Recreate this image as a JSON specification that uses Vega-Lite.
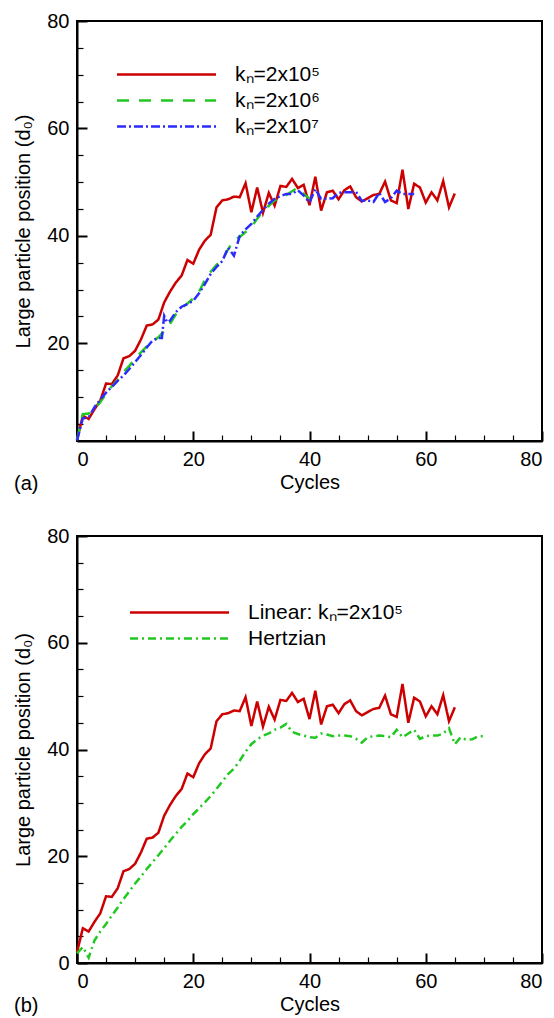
{
  "$schema": "https://vega.github.io/schema/vega-lite/v6.json",
  "background": "white",
  "padding": {"left": 12, "top": 10, "right": 4, "bottom": 2},
  "bounds": "flush",
  "spacing": 95,
  "config": {
    "font": "Liberation Sans",
    "view": {"stroke": "black", "strokeWidth": 2},
    "axis": {
      "grid": false,
      "domainColor": "black",
      "domainWidth": 2,
      "tickColor": "black",
      "tickWidth": {"condition": {"test": "datum.value % 20 === 0", "value": 2}, "value": 1.2},
      "tickSize": {"condition": {"test": "datum.value % 20 === 0", "value": -10}, "value": -6},
      "labelFont": "Liberation Sans",
      "labelFontSize": 20,
      "labelColor": "black",
      "labelPadding": 18,
      "labelExpr": "datum.value % 20 === 0 ? datum.label : ''",
      "titleFont": "Liberation Sans",
      "titleFontSize": 20,
      "titleFontWeight": "normal",
      "titleColor": "black"
    },
    "axisX": {"titlePadding": 3},
    "axisY": {"titlePadding": 13},
    "legend": {
      "labelFont": "Liberation Sans",
      "labelFontSize": 21,
      "labelColor": "black",
      "symbolType": "M-4.95,0H4.95",
      "symbolSize": 400,
      "symbolStrokeWidth": 2.5,
      "labelOffset": 57,
      "rowPadding": 4
    },
    "title": {"font": "Liberation Sans", "fontSize": 20, "fontWeight": "normal", "color": "black"}
  },
  "datasets": {
    "top": [
      {"cycle": 0, "pos": 2.0, "series": "kₙ=2x10⁵"},
      {"cycle": 1, "pos": 6.5, "series": "kₙ=2x10⁵"},
      {"cycle": 2, "pos": 5.9, "series": "kₙ=2x10⁵"},
      {"cycle": 3, "pos": 7.7, "series": "kₙ=2x10⁵"},
      {"cycle": 4, "pos": 9.3, "series": "kₙ=2x10⁵"},
      {"cycle": 5, "pos": 12.5, "series": "kₙ=2x10⁵"},
      {"cycle": 6, "pos": 12.4, "series": "kₙ=2x10⁵"},
      {"cycle": 7, "pos": 14.0, "series": "kₙ=2x10⁵"},
      {"cycle": 8, "pos": 17.2, "series": "kₙ=2x10⁵"},
      {"cycle": 9, "pos": 17.6, "series": "kₙ=2x10⁵"},
      {"cycle": 10, "pos": 18.6, "series": "kₙ=2x10⁵"},
      {"cycle": 11, "pos": 20.7, "series": "kₙ=2x10⁵"},
      {"cycle": 12, "pos": 23.3, "series": "kₙ=2x10⁵"},
      {"cycle": 13, "pos": 23.5, "series": "kₙ=2x10⁵"},
      {"cycle": 14, "pos": 24.4, "series": "kₙ=2x10⁵"},
      {"cycle": 15, "pos": 27.6, "series": "kₙ=2x10⁵"},
      {"cycle": 16, "pos": 29.6, "series": "kₙ=2x10⁵"},
      {"cycle": 17, "pos": 31.3, "series": "kₙ=2x10⁵"},
      {"cycle": 18, "pos": 32.6, "series": "kₙ=2x10⁵"},
      {"cycle": 19, "pos": 35.5, "series": "kₙ=2x10⁵"},
      {"cycle": 20, "pos": 34.8, "series": "kₙ=2x10⁵"},
      {"cycle": 21, "pos": 37.4, "series": "kₙ=2x10⁵"},
      {"cycle": 22, "pos": 39.1, "series": "kₙ=2x10⁵"},
      {"cycle": 23, "pos": 40.2, "series": "kₙ=2x10⁵"},
      {"cycle": 24, "pos": 45.3, "series": "kₙ=2x10⁵"},
      {"cycle": 25, "pos": 46.6, "series": "kₙ=2x10⁵"},
      {"cycle": 26, "pos": 46.8, "series": "kₙ=2x10⁵"},
      {"cycle": 27, "pos": 47.3, "series": "kₙ=2x10⁵"},
      {"cycle": 28, "pos": 47.2, "series": "kₙ=2x10⁵"},
      {"cycle": 29, "pos": 49.8, "series": "kₙ=2x10⁵"},
      {"cycle": 30, "pos": 44.4, "series": "kₙ=2x10⁵"},
      {"cycle": 31, "pos": 49.0, "series": "kₙ=2x10⁵"},
      {"cycle": 32, "pos": 44.3, "series": "kₙ=2x10⁵"},
      {"cycle": 33, "pos": 48.0, "series": "kₙ=2x10⁵"},
      {"cycle": 34, "pos": 45.6, "series": "kₙ=2x10⁵"},
      {"cycle": 35, "pos": 49.3, "series": "kₙ=2x10⁵"},
      {"cycle": 36, "pos": 49.1, "series": "kₙ=2x10⁵"},
      {"cycle": 37, "pos": 50.6, "series": "kₙ=2x10⁵"},
      {"cycle": 38, "pos": 48.9, "series": "kₙ=2x10⁵"},
      {"cycle": 39, "pos": 49.5, "series": "kₙ=2x10⁵"},
      {"cycle": 40, "pos": 45.7, "series": "kₙ=2x10⁵"},
      {"cycle": 41, "pos": 51.0, "series": "kₙ=2x10⁵"},
      {"cycle": 42, "pos": 44.7, "series": "kₙ=2x10⁵"},
      {"cycle": 43, "pos": 48.1, "series": "kₙ=2x10⁵"},
      {"cycle": 44, "pos": 48.4, "series": "kₙ=2x10⁵"},
      {"cycle": 45, "pos": 46.8, "series": "kₙ=2x10⁵"},
      {"cycle": 46, "pos": 48.5, "series": "kₙ=2x10⁵"},
      {"cycle": 47, "pos": 49.2, "series": "kₙ=2x10⁵"},
      {"cycle": 48, "pos": 47.2, "series": "kₙ=2x10⁵"},
      {"cycle": 49, "pos": 46.4, "series": "kₙ=2x10⁵"},
      {"cycle": 50, "pos": 47.0, "series": "kₙ=2x10⁵"},
      {"cycle": 51, "pos": 47.6, "series": "kₙ=2x10⁵"},
      {"cycle": 52, "pos": 47.8, "series": "kₙ=2x10⁵"},
      {"cycle": 53, "pos": 50.1, "series": "kₙ=2x10⁵"},
      {"cycle": 54, "pos": 46.6, "series": "kₙ=2x10⁵"},
      {"cycle": 55, "pos": 46.1, "series": "kₙ=2x10⁵"},
      {"cycle": 56, "pos": 52.3, "series": "kₙ=2x10⁵"},
      {"cycle": 57, "pos": 45.0, "series": "kₙ=2x10⁵"},
      {"cycle": 58, "pos": 49.7, "series": "kₙ=2x10⁵"},
      {"cycle": 59, "pos": 49.0, "series": "kₙ=2x10⁵"},
      {"cycle": 60, "pos": 46.2, "series": "kₙ=2x10⁵"},
      {"cycle": 61, "pos": 48.1, "series": "kₙ=2x10⁵"},
      {"cycle": 62, "pos": 46.6, "series": "kₙ=2x10⁵"},
      {"cycle": 63, "pos": 50.2, "series": "kₙ=2x10⁵"},
      {"cycle": 64, "pos": 45.3, "series": "kₙ=2x10⁵"},
      {"cycle": 65, "pos": 47.9, "series": "kₙ=2x10⁵"},

      {"cycle": 0, "pos": 2.0, "series": "kₙ=2x10⁶"},
      {"cycle": 1, "pos": 6.8, "series": "kₙ=2x10⁶"},
      {"cycle": 2, "pos": 6.9, "series": "kₙ=2x10⁶"},
      {"cycle": 3, "pos": 7.8, "series": "kₙ=2x10⁶"},
      {"cycle": 4, "pos": 9.0, "series": "kₙ=2x10⁶"},
      {"cycle": 5, "pos": 10.6, "series": "kₙ=2x10⁶"},
      {"cycle": 6, "pos": 12.0, "series": "kₙ=2x10⁶"},
      {"cycle": 7, "pos": 13.2, "series": "kₙ=2x10⁶"},
      {"cycle": 8, "pos": 14.6, "series": "kₙ=2x10⁶"},
      {"cycle": 9, "pos": 15.8, "series": "kₙ=2x10⁶"},
      {"cycle": 10, "pos": 17.1, "series": "kₙ=2x10⁶"},
      {"cycle": 11, "pos": 18.3, "series": "kₙ=2x10⁶"},
      {"cycle": 12, "pos": 19.4, "series": "kₙ=2x10⁶"},
      {"cycle": 13, "pos": 20.4, "series": "kₙ=2x10⁶"},
      {"cycle": 14, "pos": 21.1, "series": "kₙ=2x10⁶"},
      {"cycle": 15, "pos": 22.3, "series": "kₙ=2x10⁶"},
      {"cycle": 16, "pos": 23.6, "series": "kₙ=2x10⁶"},
      {"cycle": 17, "pos": 25.4, "series": "kₙ=2x10⁶"},
      {"cycle": 18, "pos": 26.6, "series": "kₙ=2x10⁶"},
      {"cycle": 19, "pos": 27.4, "series": "kₙ=2x10⁶"},
      {"cycle": 20, "pos": 28.3, "series": "kₙ=2x10⁶"},
      {"cycle": 21, "pos": 29.6, "series": "kₙ=2x10⁶"},
      {"cycle": 22, "pos": 31.8, "series": "kₙ=2x10⁶"},
      {"cycle": 23, "pos": 33.3, "series": "kₙ=2x10⁶"},
      {"cycle": 24, "pos": 34.6, "series": "kₙ=2x10⁶"},
      {"cycle": 25, "pos": 35.5, "series": "kₙ=2x10⁶"},
      {"cycle": 26, "pos": 37.5, "series": "kₙ=2x10⁶"},
      {"cycle": 27, "pos": 39.2, "series": "kₙ=2x10⁶"},
      {"cycle": 28, "pos": 39.8, "series": "kₙ=2x10⁶"},
      {"cycle": 29, "pos": 40.7, "series": "kₙ=2x10⁶"},
      {"cycle": 30, "pos": 41.6, "series": "kₙ=2x10⁶"},
      {"cycle": 31, "pos": 43.2, "series": "kₙ=2x10⁶"},
      {"cycle": 32, "pos": 44.6, "series": "kₙ=2x10⁶"},
      {"cycle": 33, "pos": 45.6, "series": "kₙ=2x10⁶"},
      {"cycle": 34, "pos": 46.6, "series": "kₙ=2x10⁶"},
      {"cycle": 35, "pos": 47.0, "series": "kₙ=2x10⁶"},
      {"cycle": 36, "pos": 47.6, "series": "kₙ=2x10⁶"},
      {"cycle": 37, "pos": 48.3, "series": "kₙ=2x10⁶"},
      {"cycle": 38, "pos": 49.0, "series": "kₙ=2x10⁶"},
      {"cycle": 39, "pos": 47.8, "series": "kₙ=2x10⁶"},
      {"cycle": 40, "pos": 46.9, "series": "kₙ=2x10⁶"},

      {"cycle": 0, "pos": 1.9, "series": "kₙ=2x10⁷"},
      {"cycle": 1, "pos": 6.0, "series": "kₙ=2x10⁷"},
      {"cycle": 2, "pos": 6.2, "series": "kₙ=2x10⁷"},
      {"cycle": 3, "pos": 8.1, "series": "kₙ=2x10⁷"},
      {"cycle": 4, "pos": 9.5, "series": "kₙ=2x10⁷"},
      {"cycle": 5, "pos": 10.8, "series": "kₙ=2x10⁷"},
      {"cycle": 6, "pos": 11.9, "series": "kₙ=2x10⁷"},
      {"cycle": 7, "pos": 13.0, "series": "kₙ=2x10⁷"},
      {"cycle": 8, "pos": 14.0, "series": "kₙ=2x10⁷"},
      {"cycle": 9, "pos": 15.2, "series": "kₙ=2x10⁷"},
      {"cycle": 10, "pos": 16.5, "series": "kₙ=2x10⁷"},
      {"cycle": 11, "pos": 17.8, "series": "kₙ=2x10⁷"},
      {"cycle": 12, "pos": 19.2, "series": "kₙ=2x10⁷"},
      {"cycle": 13, "pos": 20.5, "series": "kₙ=2x10⁷"},
      {"cycle": 14, "pos": 21.0, "series": "kₙ=2x10⁷"},
      {"cycle": 14.6, "pos": 21.0, "series": "kₙ=2x10⁷"},
      {"cycle": 15, "pos": 25.1, "series": "kₙ=2x10⁷"},
      {"cycle": 15.5, "pos": 23.9, "series": "kₙ=2x10⁷"},
      {"cycle": 16, "pos": 24.2, "series": "kₙ=2x10⁷"},
      {"cycle": 17, "pos": 25.8, "series": "kₙ=2x10⁷"},
      {"cycle": 18, "pos": 26.8, "series": "kₙ=2x10⁷"},
      {"cycle": 19, "pos": 27.3, "series": "kₙ=2x10⁷"},
      {"cycle": 20, "pos": 27.9, "series": "kₙ=2x10⁷"},
      {"cycle": 21, "pos": 29.3, "series": "kₙ=2x10⁷"},
      {"cycle": 22, "pos": 31.0, "series": "kₙ=2x10⁷"},
      {"cycle": 23, "pos": 32.9, "series": "kₙ=2x10⁷"},
      {"cycle": 24, "pos": 34.2, "series": "kₙ=2x10⁷"},
      {"cycle": 25, "pos": 35.3, "series": "kₙ=2x10⁷"},
      {"cycle": 26, "pos": 37.8, "series": "kₙ=2x10⁷"},
      {"cycle": 27, "pos": 36.3, "series": "kₙ=2x10⁷"},
      {"cycle": 28, "pos": 40.0, "series": "kₙ=2x10⁷"},
      {"cycle": 29, "pos": 41.2, "series": "kₙ=2x10⁷"},
      {"cycle": 30, "pos": 42.2, "series": "kₙ=2x10⁷"},
      {"cycle": 31, "pos": 43.6, "series": "kₙ=2x10⁷"},
      {"cycle": 32, "pos": 44.8, "series": "kₙ=2x10⁷"},
      {"cycle": 33, "pos": 46.0, "series": "kₙ=2x10⁷"},
      {"cycle": 34, "pos": 46.9, "series": "kₙ=2x10⁷"},
      {"cycle": 35, "pos": 47.4, "series": "kₙ=2x10⁷"},
      {"cycle": 36, "pos": 47.8, "series": "kₙ=2x10⁷"},
      {"cycle": 37, "pos": 47.8, "series": "kₙ=2x10⁷"},
      {"cycle": 38, "pos": 48.5, "series": "kₙ=2x10⁷"},
      {"cycle": 39, "pos": 47.5, "series": "kₙ=2x10⁷"},
      {"cycle": 40, "pos": 46.2, "series": "kₙ=2x10⁷"},
      {"cycle": 41, "pos": 48.7, "series": "kₙ=2x10⁷"},
      {"cycle": 42, "pos": 46.9, "series": "kₙ=2x10⁷"},
      {"cycle": 43, "pos": 46.9, "series": "kₙ=2x10⁷"},
      {"cycle": 44, "pos": 47.0, "series": "kₙ=2x10⁷"},
      {"cycle": 45, "pos": 48.0, "series": "kₙ=2x10⁷"},
      {"cycle": 46, "pos": 48.1, "series": "kₙ=2x10⁷"},
      {"cycle": 47, "pos": 48.1, "series": "kₙ=2x10⁷"},
      {"cycle": 48, "pos": 48.2, "series": "kₙ=2x10⁷"},
      {"cycle": 49, "pos": 46.5, "series": "kₙ=2x10⁷"},
      {"cycle": 50, "pos": 46.6, "series": "kₙ=2x10⁷"},
      {"cycle": 51, "pos": 46.3, "series": "kₙ=2x10⁷"},
      {"cycle": 52, "pos": 48.0, "series": "kₙ=2x10⁷"},
      {"cycle": 53, "pos": 46.3, "series": "kₙ=2x10⁷"},
      {"cycle": 54, "pos": 47.0, "series": "kₙ=2x10⁷"},
      {"cycle": 55, "pos": 48.4, "series": "kₙ=2x10⁷"},
      {"cycle": 56, "pos": 47.8, "series": "kₙ=2x10⁷"},
      {"cycle": 57, "pos": 47.8, "series": "kₙ=2x10⁷"},
      {"cycle": 58, "pos": 47.8, "series": "kₙ=2x10⁷"}
    ],
    "bottom": [
      {"cycle": 0, "pos": 2.0, "series": "Linear: kₙ=2x10⁵"},
      {"cycle": 1, "pos": 6.5, "series": "Linear: kₙ=2x10⁵"},
      {"cycle": 2, "pos": 5.9, "series": "Linear: kₙ=2x10⁵"},
      {"cycle": 3, "pos": 7.7, "series": "Linear: kₙ=2x10⁵"},
      {"cycle": 4, "pos": 9.3, "series": "Linear: kₙ=2x10⁵"},
      {"cycle": 5, "pos": 12.5, "series": "Linear: kₙ=2x10⁵"},
      {"cycle": 6, "pos": 12.4, "series": "Linear: kₙ=2x10⁵"},
      {"cycle": 7, "pos": 14.0, "series": "Linear: kₙ=2x10⁵"},
      {"cycle": 8, "pos": 17.2, "series": "Linear: kₙ=2x10⁵"},
      {"cycle": 9, "pos": 17.6, "series": "Linear: kₙ=2x10⁵"},
      {"cycle": 10, "pos": 18.6, "series": "Linear: kₙ=2x10⁵"},
      {"cycle": 11, "pos": 20.7, "series": "Linear: kₙ=2x10⁵"},
      {"cycle": 12, "pos": 23.3, "series": "Linear: kₙ=2x10⁵"},
      {"cycle": 13, "pos": 23.5, "series": "Linear: kₙ=2x10⁵"},
      {"cycle": 14, "pos": 24.4, "series": "Linear: kₙ=2x10⁵"},
      {"cycle": 15, "pos": 27.6, "series": "Linear: kₙ=2x10⁵"},
      {"cycle": 16, "pos": 29.6, "series": "Linear: kₙ=2x10⁵"},
      {"cycle": 17, "pos": 31.3, "series": "Linear: kₙ=2x10⁵"},
      {"cycle": 18, "pos": 32.6, "series": "Linear: kₙ=2x10⁵"},
      {"cycle": 19, "pos": 35.5, "series": "Linear: kₙ=2x10⁵"},
      {"cycle": 20, "pos": 34.8, "series": "Linear: kₙ=2x10⁵"},
      {"cycle": 21, "pos": 37.4, "series": "Linear: kₙ=2x10⁵"},
      {"cycle": 22, "pos": 39.1, "series": "Linear: kₙ=2x10⁵"},
      {"cycle": 23, "pos": 40.2, "series": "Linear: kₙ=2x10⁵"},
      {"cycle": 24, "pos": 45.3, "series": "Linear: kₙ=2x10⁵"},
      {"cycle": 25, "pos": 46.6, "series": "Linear: kₙ=2x10⁵"},
      {"cycle": 26, "pos": 46.8, "series": "Linear: kₙ=2x10⁵"},
      {"cycle": 27, "pos": 47.3, "series": "Linear: kₙ=2x10⁵"},
      {"cycle": 28, "pos": 47.2, "series": "Linear: kₙ=2x10⁵"},
      {"cycle": 29, "pos": 49.8, "series": "Linear: kₙ=2x10⁵"},
      {"cycle": 30, "pos": 44.4, "series": "Linear: kₙ=2x10⁵"},
      {"cycle": 31, "pos": 49.0, "series": "Linear: kₙ=2x10⁵"},
      {"cycle": 32, "pos": 44.3, "series": "Linear: kₙ=2x10⁵"},
      {"cycle": 33, "pos": 48.0, "series": "Linear: kₙ=2x10⁵"},
      {"cycle": 34, "pos": 45.6, "series": "Linear: kₙ=2x10⁵"},
      {"cycle": 35, "pos": 49.3, "series": "Linear: kₙ=2x10⁵"},
      {"cycle": 36, "pos": 49.1, "series": "Linear: kₙ=2x10⁵"},
      {"cycle": 37, "pos": 50.6, "series": "Linear: kₙ=2x10⁵"},
      {"cycle": 38, "pos": 48.9, "series": "Linear: kₙ=2x10⁵"},
      {"cycle": 39, "pos": 49.5, "series": "Linear: kₙ=2x10⁵"},
      {"cycle": 40, "pos": 45.7, "series": "Linear: kₙ=2x10⁵"},
      {"cycle": 41, "pos": 51.0, "series": "Linear: kₙ=2x10⁵"},
      {"cycle": 42, "pos": 44.7, "series": "Linear: kₙ=2x10⁵"},
      {"cycle": 43, "pos": 48.1, "series": "Linear: kₙ=2x10⁵"},
      {"cycle": 44, "pos": 48.4, "series": "Linear: kₙ=2x10⁵"},
      {"cycle": 45, "pos": 46.8, "series": "Linear: kₙ=2x10⁵"},
      {"cycle": 46, "pos": 48.5, "series": "Linear: kₙ=2x10⁵"},
      {"cycle": 47, "pos": 49.2, "series": "Linear: kₙ=2x10⁵"},
      {"cycle": 48, "pos": 47.2, "series": "Linear: kₙ=2x10⁵"},
      {"cycle": 49, "pos": 46.4, "series": "Linear: kₙ=2x10⁵"},
      {"cycle": 50, "pos": 47.0, "series": "Linear: kₙ=2x10⁵"},
      {"cycle": 51, "pos": 47.6, "series": "Linear: kₙ=2x10⁵"},
      {"cycle": 52, "pos": 47.8, "series": "Linear: kₙ=2x10⁵"},
      {"cycle": 53, "pos": 50.1, "series": "Linear: kₙ=2x10⁵"},
      {"cycle": 54, "pos": 46.6, "series": "Linear: kₙ=2x10⁵"},
      {"cycle": 55, "pos": 46.1, "series": "Linear: kₙ=2x10⁵"},
      {"cycle": 56, "pos": 52.3, "series": "Linear: kₙ=2x10⁵"},
      {"cycle": 57, "pos": 45.0, "series": "Linear: kₙ=2x10⁵"},
      {"cycle": 58, "pos": 49.7, "series": "Linear: kₙ=2x10⁵"},
      {"cycle": 59, "pos": 49.0, "series": "Linear: kₙ=2x10⁵"},
      {"cycle": 60, "pos": 46.2, "series": "Linear: kₙ=2x10⁵"},
      {"cycle": 61, "pos": 48.1, "series": "Linear: kₙ=2x10⁵"},
      {"cycle": 62, "pos": 46.6, "series": "Linear: kₙ=2x10⁵"},
      {"cycle": 63, "pos": 50.2, "series": "Linear: kₙ=2x10⁵"},
      {"cycle": 64, "pos": 45.3, "series": "Linear: kₙ=2x10⁵"},
      {"cycle": 65, "pos": 47.9, "series": "Linear: kₙ=2x10⁵"},

      {"cycle": 0, "pos": 1.8, "series": "Hertzian"},
      {"cycle": 1, "pos": 3.0, "series": "Hertzian"},
      {"cycle": 2, "pos": 1.0, "series": "Hertzian"},
      {"cycle": 3, "pos": 4.2, "series": "Hertzian"},
      {"cycle": 4, "pos": 5.9, "series": "Hertzian"},
      {"cycle": 5, "pos": 7.3, "series": "Hertzian"},
      {"cycle": 6, "pos": 8.9, "series": "Hertzian"},
      {"cycle": 7, "pos": 10.4, "series": "Hertzian"},
      {"cycle": 8, "pos": 12.0, "series": "Hertzian"},
      {"cycle": 9, "pos": 13.4, "series": "Hertzian"},
      {"cycle": 10, "pos": 14.9, "series": "Hertzian"},
      {"cycle": 11, "pos": 16.2, "series": "Hertzian"},
      {"cycle": 12, "pos": 17.6, "series": "Hertzian"},
      {"cycle": 13, "pos": 18.9, "series": "Hertzian"},
      {"cycle": 14, "pos": 20.2, "series": "Hertzian"},
      {"cycle": 15, "pos": 21.5, "series": "Hertzian"},
      {"cycle": 16, "pos": 22.9, "series": "Hertzian"},
      {"cycle": 17, "pos": 24.2, "series": "Hertzian"},
      {"cycle": 18, "pos": 25.5, "series": "Hertzian"},
      {"cycle": 19, "pos": 26.6, "series": "Hertzian"},
      {"cycle": 20, "pos": 27.9, "series": "Hertzian"},
      {"cycle": 21, "pos": 29.0, "series": "Hertzian"},
      {"cycle": 22, "pos": 30.1, "series": "Hertzian"},
      {"cycle": 23, "pos": 31.3, "series": "Hertzian"},
      {"cycle": 24, "pos": 32.6, "series": "Hertzian"},
      {"cycle": 25, "pos": 34.0, "series": "Hertzian"},
      {"cycle": 26, "pos": 35.4, "series": "Hertzian"},
      {"cycle": 27, "pos": 36.4, "series": "Hertzian"},
      {"cycle": 28, "pos": 37.9, "series": "Hertzian"},
      {"cycle": 29, "pos": 39.6, "series": "Hertzian"},
      {"cycle": 30, "pos": 41.0, "series": "Hertzian"},
      {"cycle": 31, "pos": 41.9, "series": "Hertzian"},
      {"cycle": 32, "pos": 42.6, "series": "Hertzian"},
      {"cycle": 33, "pos": 43.0, "series": "Hertzian"},
      {"cycle": 34, "pos": 43.7, "series": "Hertzian"},
      {"cycle": 35, "pos": 44.1, "series": "Hertzian"},
      {"cycle": 36, "pos": 44.8, "series": "Hertzian"},
      {"cycle": 37, "pos": 43.3, "series": "Hertzian"},
      {"cycle": 38, "pos": 42.9, "series": "Hertzian"},
      {"cycle": 39, "pos": 42.6, "series": "Hertzian"},
      {"cycle": 40, "pos": 42.3, "series": "Hertzian"},
      {"cycle": 41, "pos": 42.2, "series": "Hertzian"},
      {"cycle": 42, "pos": 43.0, "series": "Hertzian"},
      {"cycle": 43, "pos": 42.8, "series": "Hertzian"},
      {"cycle": 44, "pos": 42.5, "series": "Hertzian"},
      {"cycle": 45, "pos": 42.6, "series": "Hertzian"},
      {"cycle": 46, "pos": 42.6, "series": "Hertzian"},
      {"cycle": 47, "pos": 42.5, "series": "Hertzian"},
      {"cycle": 48, "pos": 42.0, "series": "Hertzian"},
      {"cycle": 49, "pos": 41.3, "series": "Hertzian"},
      {"cycle": 50, "pos": 42.3, "series": "Hertzian"},
      {"cycle": 51, "pos": 42.5, "series": "Hertzian"},
      {"cycle": 52, "pos": 42.6, "series": "Hertzian"},
      {"cycle": 53, "pos": 42.5, "series": "Hertzian"},
      {"cycle": 54, "pos": 42.3, "series": "Hertzian"},
      {"cycle": 55, "pos": 43.7, "series": "Hertzian"},
      {"cycle": 56, "pos": 42.3, "series": "Hertzian"},
      {"cycle": 57, "pos": 43.0, "series": "Hertzian"},
      {"cycle": 58, "pos": 43.7, "series": "Hertzian"},
      {"cycle": 59, "pos": 42.0, "series": "Hertzian"},
      {"cycle": 60, "pos": 42.5, "series": "Hertzian"},
      {"cycle": 61, "pos": 42.6, "series": "Hertzian"},
      {"cycle": 62, "pos": 42.6, "series": "Hertzian"},
      {"cycle": 63, "pos": 43.0, "series": "Hertzian"},
      {"cycle": 64, "pos": 44.0, "series": "Hertzian"},
      {"cycle": 65, "pos": 41.0, "series": "Hertzian"},
      {"cycle": 66, "pos": 42.3, "series": "Hertzian"},
      {"cycle": 67, "pos": 41.8, "series": "Hertzian"},
      {"cycle": 68, "pos": 41.9, "series": "Hertzian"},
      {"cycle": 69, "pos": 42.5, "series": "Hertzian"},
      {"cycle": 70, "pos": 42.5, "series": "Hertzian"}
    ]
  },
  "vconcat": [
    {
      "width": 465,
      "height": 420,
      "data": {"name": "top"},
      "title": {"text": "(a)", "orient": "bottom", "anchor": "start", "frame": "group", "dx": -63, "dy": -22},
      "mark": {"type": "line", "strokeWidth": 2.5},
      "encoding": {
        "x": {
          "field": "cycle", "type": "quantitative",
          "scale": {"domain": [0, 80], "nice": false},
          "axis": {"title": "Cycles", "values": [0,5,10,15,20,25,30,35,40,45,50,55,60,65,70,75,80]}
        },
        "y": {
          "field": "pos", "type": "quantitative",
          "scale": {"domain": [1.8, 80], "nice": false, "zero": false},
          "axis": {"title": "Large particle position (d₀)", "values": [5,10,15,20,25,30,35,40,45,50,55,60,65,70,75,80]}
        },
        "color": {
          "field": "series", "type": "nominal",
          "scale": {"domain": ["kₙ=2x10⁵", "kₙ=2x10⁶", "kₙ=2x10⁷"], "range": ["#cc0000", "#22c822", "#2b2bff"]},
          "legend": {"title": null, "orient": "none", "legendX": 78, "legendY": 42}
        },
        "strokeDash": {
          "field": "series", "type": "nominal",
          "scale": {"domain": ["kₙ=2x10⁵", "kₙ=2x10⁶", "kₙ=2x10⁷"], "range": [[1, 0], [12, 10], [9, 3, 2, 3]]},
          "legend": {"title": null, "orient": "none", "legendX": 78, "legendY": 42}
        }
      }
    },
    {
      "width": 465,
      "height": 427,
      "data": {"name": "bottom"},
      "title": {"text": "(b)", "orient": "bottom", "anchor": "start", "frame": "group", "dx": -63, "dy": -22},
      "mark": {"type": "line", "strokeWidth": 2.5},
      "encoding": {
        "x": {
          "field": "cycle", "type": "quantitative",
          "scale": {"domain": [0, 80], "nice": false},
          "axis": {"title": "Cycles", "values": [0,5,10,15,20,25,30,35,40,45,50,55,60,65,70,75,80]}
        },
        "y": {
          "field": "pos", "type": "quantitative",
          "scale": {"domain": [0, 80], "nice": false},
          "axis": {"title": "Large particle position (d₀)", "values": [0,5,10,15,20,25,30,35,40,45,50,55,60,65,70,75,80]}
        },
        "color": {
          "field": "series", "type": "nominal",
          "scale": {"domain": ["Linear: kₙ=2x10⁵", "Hertzian"], "range": ["#cc0000", "#22c822"]},
          "legend": {"title": null, "orient": "none", "legendX": 91, "legendY": 65}
        },
        "strokeDash": {
          "field": "series", "type": "nominal",
          "scale": {"domain": ["Linear: kₙ=2x10⁵", "Hertzian"], "range": [[1, 0], [8, 4, 2, 4]]},
          "legend": {"title": null, "orient": "none", "legendX": 91, "legendY": 65}
        }
      }
    }
  ],
  "resolve": {"scale": {"color": "independent", "strokeDash": "independent"}, "legend": {"color": "independent", "strokeDash": "independent"}}
}
